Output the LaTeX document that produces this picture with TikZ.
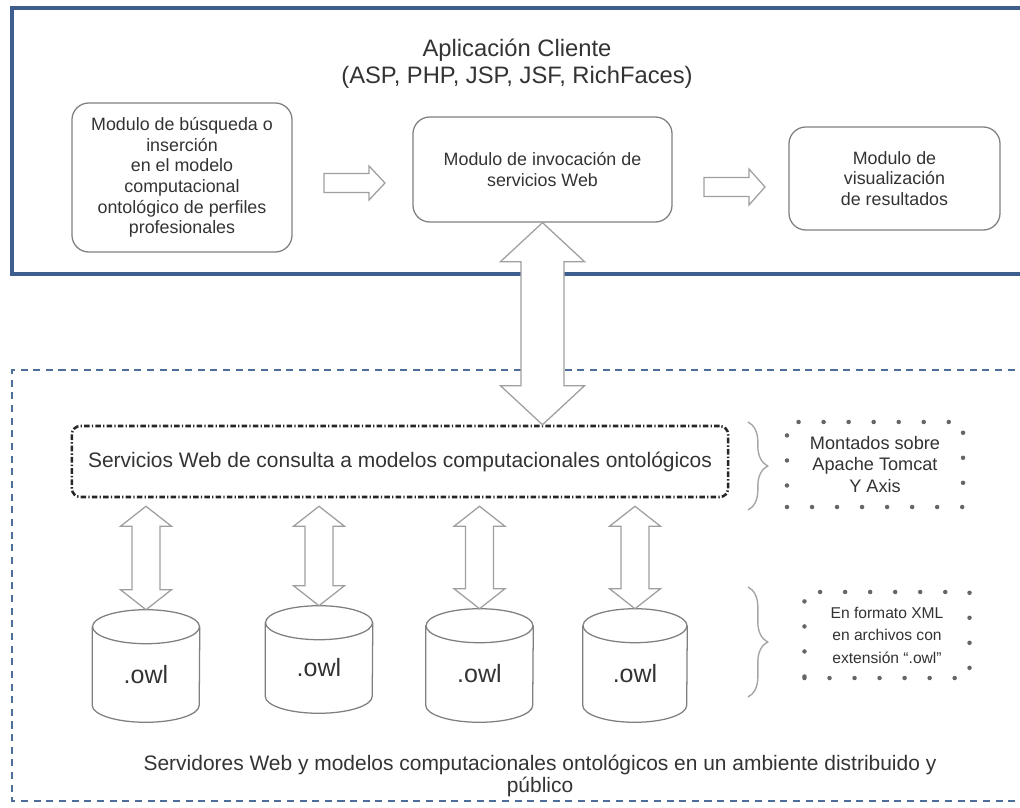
\documentclass[tikz,border=0pt]{standalone}
\usepackage{fontspec}
\setmainfont{Liberation Sans}
\usepackage{tikz}
\usetikzlibrary{shapes,arrows,positioning,calc,decorations.pathreplacing}

\definecolor{frameblue}{HTML}{3E5F8E}
\definecolor{dashblue}{HTML}{4F6E9C}
\definecolor{boxgray}{HTML}{7F7F7F}
\definecolor{txtgray}{HTML}{333333}

% hollow double arrow: top tip, bottom tip, shaft half, head half, head length
\newcommand{\vdarrow}[5]{%
  \draw[blockarrow] (#1) -- ++(#4,#5) -- ++(-#4+#3,0) -- ($(#2)+(#3,-#5)$) -- ++(#4-#3,0) -- (#2)
    -- ++(-#4,-#5) -- ++(#4-#3,0) -- ($(#1)+(-#3,#5)$) -- ++(-#4+#3,0) -- cycle;}
% hollow single arrow: tail, tip, shaft half, head half, head length
\newcommand{\hsarrow}[5]{%
  \draw[blockarrow] ($(#1)+(0,-#3)$) -- ($(#2)+(-#5,-#3)$) -- ++(0,#3-#4) -- (#2)
    -- ($(#2)+(-#5,#4)$) -- ++(0,#3-#4) -- ($(#1)+(0,#3)$) -- cycle;}
% cylinder around a body node: node name, half width
\newcommand{\owlcyl}[2]{%
  \draw[owlline] (#1.north west) -- ($(#1.south west)+(0,-17)$) arc (180:0:#2 and 17) -- (#1.north east);
  \draw[owlline] (#1.north) ellipse (#2 and 17);}

\begin{document}
\begin{tikzpicture}[x=0.025cm, y=-0.025cm,
    modulo/.style={rectangle, draw=boxgray, line width=0.9pt, rounded corners=12pt, align=center, text=txtgray, font=\fontsize{12.7}{14.6}\selectfont},
    servicio/.style={rectangle, draw=black!85, line width=1.8pt, rounded corners=6pt, dash pattern=on 4pt off 1.5pt on 1pt off 1.5pt, text=txtgray, font=\fontsize{14.9}{17}\selectfont},
    nota/.style={rectangle, draw=black!60, line width=3.2pt, line cap=round, dash pattern=on 0pt off 17.8pt, align=center, text=txtgray},
    owl/.style={rectangle, inner sep=0pt, text=txtgray, font=\fontsize{17.8}{20}\selectfont},
    owlline/.style={draw=boxgray, line width=0.9pt},
    llave/.style={draw=gray!70, line width=1pt, decorate, decoration={brace, amplitude=14pt}},
    blockarrow/.style={draw=gray!75, line width=0.9pt, fill=white, line join=miter}
]
\useasboundingbox (0,0) rectangle (1020,808);
\clip (0,0) rectangle (1020,808);

% Client application frame
\draw[frameblue, line width=2.2pt] (1040,8) -- (12,8) -- (12,274) -- (1040,274);
\node[align=center, text=txtgray, font=\fontsize{16.9}{19.2}\selectfont] (titulo) at (517,64) {Aplicación Cliente\\(ASP, PHP, JSP, JSF, RichFaces)};

% Modules
\node[modulo, minimum width=5.5cm, minimum height=3.725cm] (mod1) at (182,177.5) {Modulo de búsqueda o\\inserción\\en el modelo\\computacional\\ontológico de perfiles\\profesionales};
\node[modulo, minimum width=6.475cm, minimum height=2.625cm] (mod2) at (542.5,169.5) {Modulo de invocación de\\servicios Web};
\node[modulo, minimum width=5.275cm, minimum height=2.575cm] (mod3) at (894.5,178.5) {Modulo de\\visualización\\de resultados};

\coordinate (a1s) at (324,183);
\coordinate (a1e) at (385,183);
\coordinate (a2s) at (704,187);
\coordinate (a2e) at (765,187);
\hsarrow{a1s}{a1e}{9.5}{17}{16}
\hsarrow{a2s}{a2e}{9.5}{18}{16}

% Distributed servers frame
\draw[dashblue, line width=1.8pt, dash pattern=on 5pt off 4pt] (1040,370) -- (12,370) -- (12,801) -- (1040,801);

% Web services
\node[servicio, minimum width=16.4cm, minimum height=1.775cm] (svc) at (400,461.5) {Servicios Web de consulta a modelos computacionales ontológicos};
\node[nota, minimum width=4.4cm, minimum height=2.125cm, font=\fontsize{12.9}{15}\selectfont] (nota1) at (875,464.5) {Montados sobre\\Apache Tomcat\\Y Axis};
\draw[llave] (748,422) -- (748,510);

% Ontology files
\node[owl, minimum width=2.675cm, minimum height=2.375cm] (db1) at (146,674.5) {.owl};
\node[owl, minimum width=2.675cm, minimum height=2.25cm] (db2) at (319,668) {.owl};
\node[owl, minimum width=2.675cm, minimum height=2.4cm] (db3) at (479.5,674) {.owl};
\node[owl, minimum width=2.6cm, minimum height=2.4cm] (db4) at (635,674) {.owl};
\foreach \i/\r in {1/53.5, 2/53.5, 3/53.5, 4/52} {
  \owlcyl{db\i}{\r}
}

\node[nota, minimum width=4.125cm, minimum height=2.15cm, font=\fontsize{11.1}{16}\selectfont] (nota2) at (887,635) {En formato XML\\en archivos con\\extensión ``.owl''};
\draw[llave] (748,587) -- (748,697);

\node[align=center, text=txtgray, font=\fontsize{14.9}{15.6}\selectfont] (pie) at (540,776) {Servidores Web y modelos computacionales ontológicos en un ambiente distribuido y\\público};

% Access arrows
\vdarrow{mod2.south}{mod2.south |- svc.north}{21.5}{42}{39}
\foreach \i in {1,...,4} {
  \vdarrow{$(db\i.north |- svc.south)+(0,8)$}{$(db\i.north)+(0,-17)$}{14}{25.5}{20}
}

\end{tikzpicture}
\end{document}
